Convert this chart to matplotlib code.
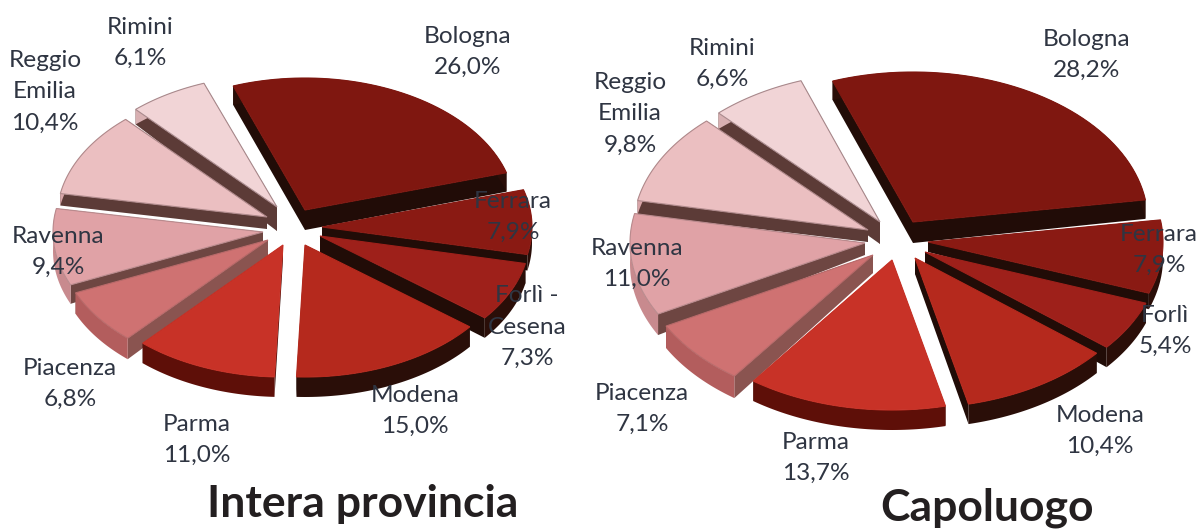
#!/usr/bin/env python3
"""Two exploded 3D-looking pies, drawn as polygons on one pixel-scaled axes."""

import matplotlib
matplotlib.use("Agg")
import matplotlib.pyplot as plt
import numpy as np

plt.rcParams["font.family"] = ["Lato", "DejaVu Sans"]

names_left = ["Bologna", "Ferrara", "Forlì -\nCesena", "Modena", "Parma", "Piacenza", "Ravenna", "Reggio\nEmilia", "Rimini"]
values_left = [26.0, 7.9, 7.3, 15.0, 11.0, 6.8, 9.4, 10.4, 6.1]

names_right = ["Bologna", "Ferrara", "Forlì", "Modena", "Parma", "Piacenza", "Ravenna", "Reggio\nEmilia", "Rimini"]
values_right = [28.2, 7.9, 5.4, 10.4, 13.7, 7.1, 11.0, 9.8, 6.6]

# label centres, pixels
label_xy_left = [(468, 52), (513, 217), (527, 327), (415, 411), (197, 440), (70, 384), (58, 252), (45, 92), (140, 43)]
label_xy_right = [(1087, 55), (1159, 250), (1165, 331), (1100, 431), (816, 458), (642, 409), (637, 264), (630, 114), (722, 64)]

# slice apex positions, pixels
apex_left = [(305, 210), (322, 227), (320, 236), (305, 245), (283, 245), (268, 240), (263, 232), (267, 217), (277, 207)]
apex_right = [(913, 222), (928, 242), (925, 252), (915, 258), (892, 260), (873, 255), (865, 243), (868, 230), (880, 222)]

# wall heights at the rim and at the apex
depth_left = [19, 16, 20, 20, 20, 21, 19, 12, 15]
apex_depth_left = [20, 10, 18, 16, 14, 16, 12, 12, 24]
depth_right = [19, 16, 20, 20, 20, 22, 21, 14, 16]
apex_depth_right = [21, 10, 16, 16, 14, 18, 12, 12, 22]

top_colors = ["#7f1710", "#8a1a13", "#9e201a", "#b5291d", "#c83227", "#cf7272", "#e0a2a6", "#ebbfc1", "#f1d4d6"]
arc_colors = ["#2a0e08", "#2a0e08", "#2a0e08", "#2a0e08", "#5e0f08", "#b35d5d", "#c88a8e", "#d8a5a8", "#d8b0b2"]
wall_colors = ["#210c07", "#210c07", "#210c07", "#210c07", "#3a0b06", "#8a5450", "#6e4642", "#5c3b37", "#5c3b37"]
edge_colors = ["#7f1710", "#8a1a13", "#9e201a", "#b5291d", "#c83227", "#b86a6a", "#b98a8d", "#b08a8c", "#a98a8d"]

# back to front
draw_order = [0, 8, 7, 1, 6, 2, 5, 4, 3]


def draw_pie(ax, values, apexes, start, rx, ry, depths, apex_depths):
    angle = start
    slices = []
    for value, apex in zip(values, apexes):
        sweep = value * 3.6
        th = np.radians(np.linspace(angle, angle + sweep, 50))
        slices.append((apex, th))
        angle += sweep

    for i in draw_order:
        (ax0, ay0), th = slices[i]
        xs = ax0 + rx * np.sin(th)
        ys = ay0 - ry * np.cos(th)

        # radial walls first, outer rim over them
        for ex, ey in [(xs[0], ys[0]), (xs[-1], ys[-1])]:
            ax.fill([ax0, ex, ex, ax0], [ay0, ey, ey + depths[i], ay0 + apex_depths[i]],
                    color=wall_colors[i], lw=0)
        ax.fill(np.r_[xs, xs[::-1]], np.r_[ys, ys[::-1] + depths[i]], color=arc_colors[i], lw=0)
        ax.fill(np.r_[ax0, xs], np.r_[ay0, ys], facecolor=top_colors[i],
                edgecolor=edge_colors[i], lw=0.8)


fig = plt.figure(figsize=(12.02, 5.29), dpi=100)
ax = fig.add_axes([0, 0, 1, 1])
ax.set_xlim(0, 1202)
ax.set_ylim(529, 0)
ax.axis("off")

draw_pie(ax, values_left, apex_left, -20, 210, 132, depth_left, apex_depth_left)
draw_pie(ax, values_right, apex_right, -20, 235, 150, depth_right, apex_depth_right)

for names, values, spots in [(names_left, values_left, label_xy_left), (names_right, values_right, label_xy_right)]:
    for name, value, (x, y) in zip(names, values, spots):
        label = f"{name}\n{value:.1f}%".replace(".", ",")
        ax.text(x, y, label, ha="center", va="center", fontsize=17.6, color="#2f3542", linespacing=1.6)

ax.text(363, 517, "Intera provincia", ha="center", va="baseline", fontsize=32, fontweight="bold", color="#231f20")
ax.text(987, 520, "Capoluogo", ha="center", va="baseline", fontsize=32, fontweight="bold", color="#231f20")

fig.savefig("out.png", dpi=100)
